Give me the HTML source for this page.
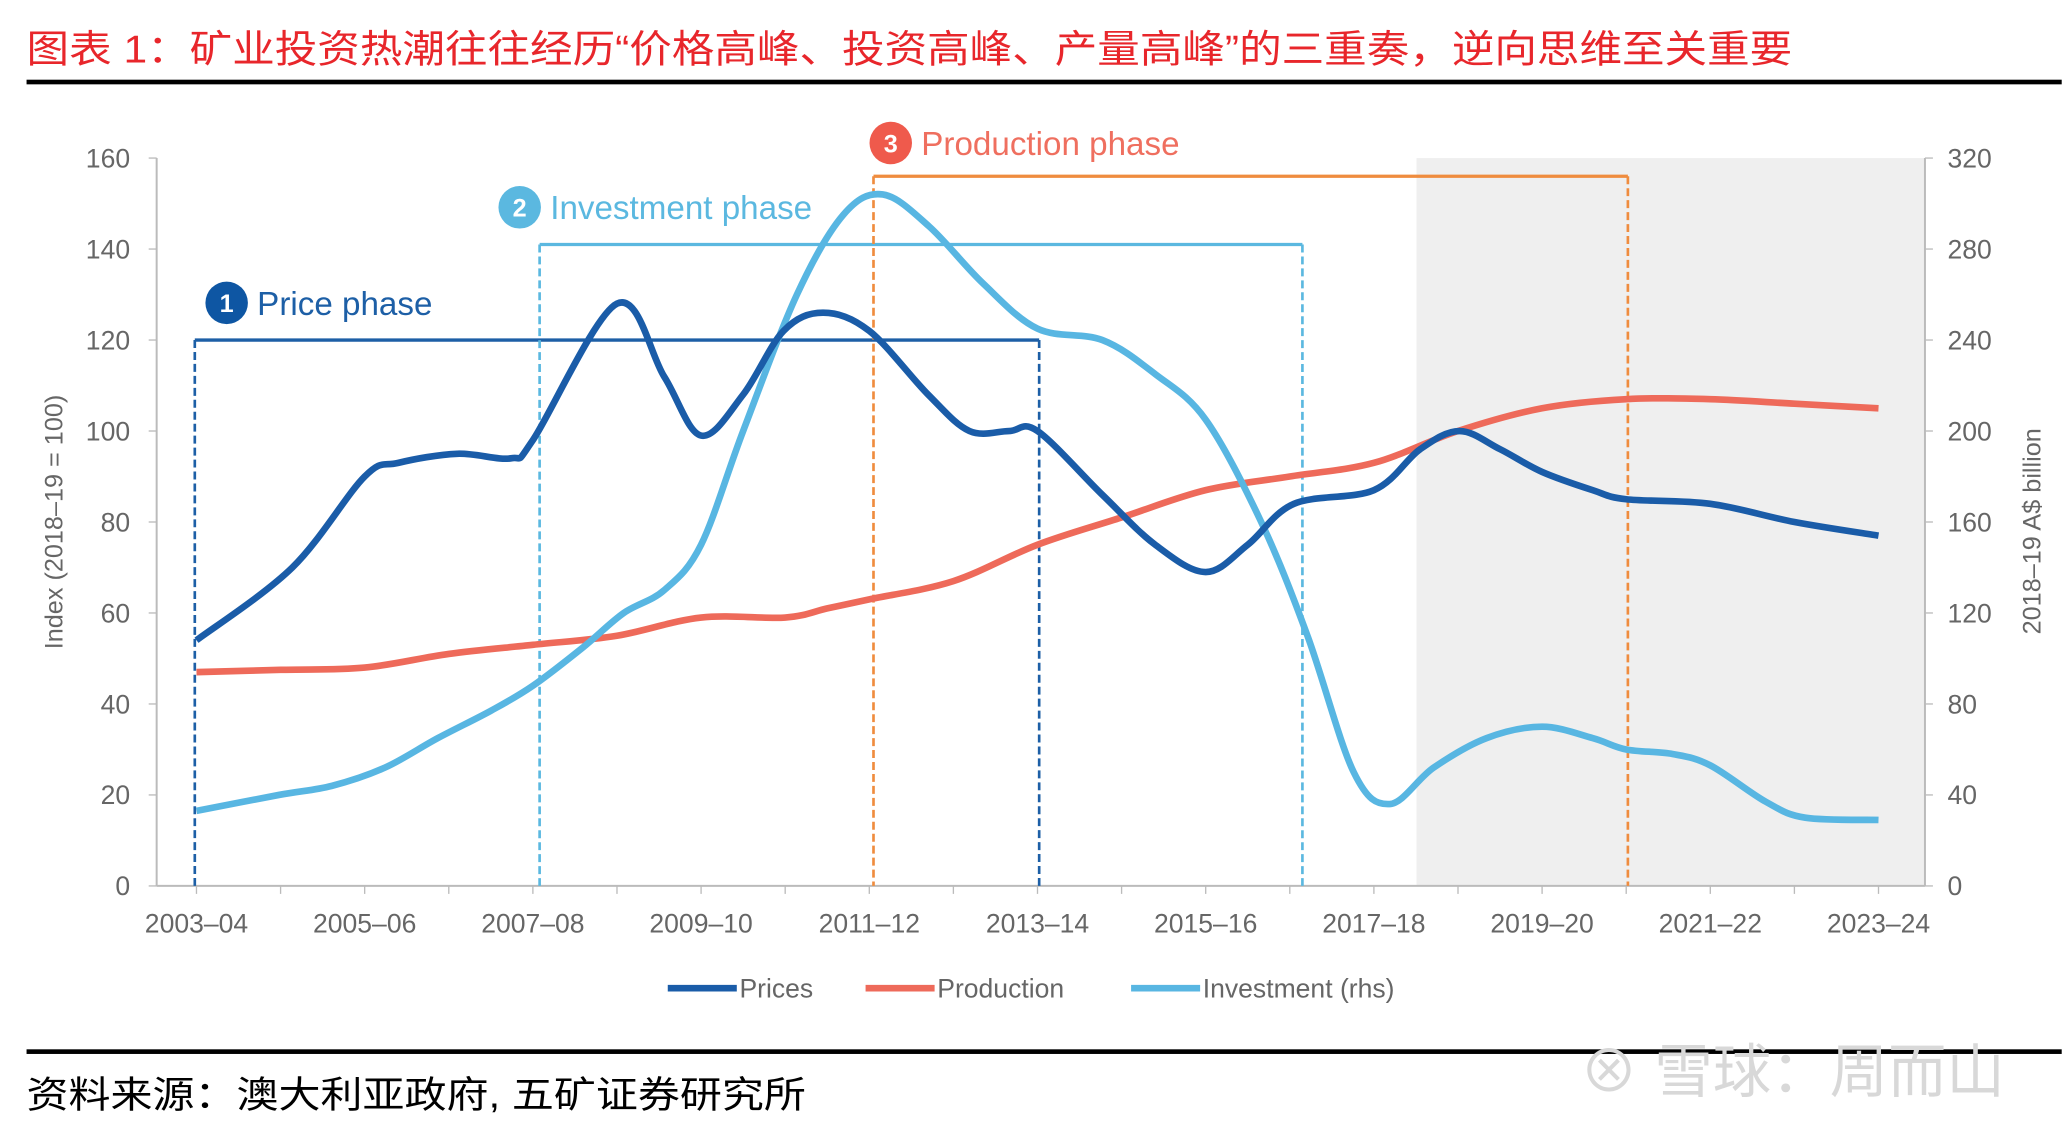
<!DOCTYPE html>
<html><head><meta charset="utf-8"><style>
html,body{margin:0;padding:0;background:#fff;}
svg{display:block;}
</style></head><body>
<svg id="chart" width="2071" height="1129" viewBox="0 0 1560 850" preserveAspectRatio="none" xmlns="http://www.w3.org/2000/svg" font-family="'Liberation Sans','Noto Sans CJK SC',sans-serif">
<text x="20" y="47" font-size="29" textLength="1330" lengthAdjust="spacingAndGlyphs" fill="#e8262b" font-family="'Liberation Sans','Noto Sans CJK SC',sans-serif">图表 1：矿业投资热潮往往经历“价格高峰、投资高峰、产量高峰”的三重奏，逆向思维至关重要</text>
<rect x="20" y="60" width="1533" height="3.5" fill="#000"/>
<rect x="1067" y="119" width="383" height="548" fill="#efefef"/>
<g id="axes"></g>
<g id="phases"></g>
<g id="series"></g>
<text transform="translate(47,393) rotate(-90)" text-anchor="middle" font-size="19" fill="#666">Index (2018–19 = 100)</text>
<text transform="translate(1537,400) rotate(-90)" text-anchor="middle" font-size="19" fill="#666">2018–19 A$ billion</text>
<g font-size="20" fill="#666">
<line x1="503" y1="744" x2="555" y2="744" stroke="#1a5ca8" stroke-width="5"/>
<text x="557" y="751">Prices</text>
<line x1="652" y1="744" x2="704" y2="744" stroke="#ee6a5a" stroke-width="5"/>
<text x="706" y="751">Production</text>
<line x1="852" y1="744" x2="904" y2="744" stroke="#58b6e2" stroke-width="5"/>
<text x="906" y="751">Investment (rhs)</text>
</g>
<rect x="20" y="790" width="1533" height="3.5" fill="#000"/>
<text x="20" y="834" font-size="28" textLength="587" lengthAdjust="spacingAndGlyphs" fill="#000">资料来源：澳大利亚政府, 五矿证券研究所</text>
<text x="1190" y="822" font-size="44" fill="#d8d8d8">⊗ 雪球：周而山</text>
</svg>
<script>
const xLabels=["2003–04","2005–06","2007–08","2009–10","2011–12","2013–14","2015–16","2017–18","2019–20","2021–22","2023–24"];
const leftTicks=[0,20,40,60,80,100,120,140,160];
const rightTicks=[0,40,80,120,160,200,240,280,320];
const priceYears=[0,1.14,2,2.4,3.1,3.74,4,5,5.56,6,6.5,6.98,7.45,8,8.7,9.19,9.66,10,10.77,11.4,12,12.5,13.05,14,14.55,15.02,15.5,16,16.6,17,18,19,20];
const priceValues=[54,70,90,93,95,94,98,128,112,99,108,122,126,122,108,100,100,100,86,75,69,75,84,87,96,100,96,91,87,85,84,80,77];
const prodYears=[0,1,2,3,4,5,6,7,7.5,8,9,10,11,12,13,14,15,16,17,18,19,20];
const prodValues=[47,47.5,48,51,53,55,59,59,61,63,67,75,81,87,90,93,100,105,107,107,106,105];
const invYears=[0,0.98,1.61,2.24,2.87,3.5,4,4.6,5.08,5.56,6,6.5,7.14,7.69,8.16,8.71,9.35,10,10.77,11.4,12,12.66,13.21,13.76,14.19,14.71,15.34,16,16.6,17,17.55,18,18.66,19.13,20];
const invValues=[33,40,44,52,65,77,88,105,120,130,150,200,260,295,304,290,265,245,240,225,205,160,110,50,36,52,65,70,65,60,58,53,37,30,29];
const phaseNames=["Price phase","Investment phase","Production phase"];
const phaseStart=[-0.02,4.08,8.05];
const phaseEnd=[10.02,13.15,17.02];
const phaseLevel=[120,141,156];

const X0=148,XS=63.35,Y0=667,H=548;
const xs=y=>X0+y*XS;
const yl=v=>Y0-v/160*H;
const yr=v=>Y0-v/320*H;
const NS="http://www.w3.org/2000/svg";
function mk(tag,attrs,parent){const e=document.createElementNS(NS,tag);for(const k in attrs)e.setAttribute(k,attrs[k]);parent.appendChild(e);return e;}
const axes=document.getElementById('axes');
let a=mk('line',{x1:118,y1:119,x2:118,y2:667,stroke:'#bbb','stroke-width':1.5},axes);


a=mk('line',{x1:1450,y1:119,x2:1450,y2:667,stroke:'#bbb','stroke-width':1.5},axes);


a=mk('line',{x1:118,y1:667,x2:1450,y2:667,stroke:'#bbb','stroke-width':1.5},axes);


leftTicks.forEach(v=>{
  const t=mk('text',{x:98,y:yl(v)+7,'text-anchor':'end','font-size':20,fill:'#666'},axes);t.textContent=v;
  
  
  mk('line',{x1:112,y1:yl(v),x2:118,y2:yl(v),stroke:'#bbb'},axes);
});
rightTicks.forEach(v=>{
  const t=mk('text',{x:1467,y:yr(v)+7,'font-size':20,fill:'#666'},axes);t.textContent=v;
  
  
  mk('line',{x1:1450,y1:yr(v),x2:1456,y2:yr(v),stroke:'#bbb'},axes);
});
for(let i=0;i<=20;i++){mk('line',{x1:xs(i),y1:667,x2:xs(i),y2:673,stroke:'#bbb'},axes);}
xLabels.forEach((l,i)=>{
  const t=mk('text',{x:xs(i*2),y:702,'text-anchor':'middle','font-size':20,fill:'#666'},axes);t.textContent=l;
  
  
});
const phaseColors=['#1d5fa6','#5bb8e0','#ef8c3e'];
const circleColors=['#0e56a3','#5bb8e0','#ef5a4c'];
const textColors=['#1d5fa6','#5bb8e0','#ef6f5f'];
const ph=document.getElementById('phases');
phaseNames.forEach((n,i)=>{
  const x1=xs(phaseStart[i]),x2=xs(phaseEnd[i]),y=yl(phaseLevel[i]);
  const g=mk('g',{},ph);
  
  
  mk('line',{x1:x1,y1:y,x2:x2,y2:y,stroke:phaseColors[i],'stroke-width':2.5},g);
  mk('line',{x1:x1,y1:y,x2:x1,y2:667,stroke:phaseColors[i],'stroke-width':2,'stroke-dasharray':'6,3'},g);
  mk('line',{x1:x2,y1:y,x2:x2,y2:667,stroke:phaseColors[i],'stroke-width':2,'stroke-dasharray':'6,3'},g);
  const cx=x1+(i==0?24:(i==2?13:-15)), cy=y-28+(i==2?3:0);
  mk('circle',{cx:cx,cy:cy,r:16,fill:circleColors[i]},g);
  const num=mk('text',{x:cx,y:cy+7,'text-anchor':'middle','font-size':19,'font-weight':'bold',fill:'#fff'},g);num.textContent=i+1;
  const t=mk('text',{x:cx+23,y:cy+9,'font-size':25,fill:textColors[i]},g);t.textContent=n;
  
  
});
function path(xsArr,ysArr){
  const p=xsArr.map((x,i)=>[x,ysArr[i]]);
  let d='M'+p[0][0]+','+p[0][1];
  for(let i=0;i<p.length-1;i++){
    const p0=p[Math.max(0,i-1)],p1=p[i],p2=p[i+1],p3=p[Math.min(p.length-1,i+2)];
    const c1x=p1[0]+(p2[0]-p0[0])/6,c1y=p1[1]+(p2[1]-p0[1])/6;
    const c2x=p2[0]-(p3[0]-p1[0])/6,c2y=p2[1]-(p3[1]-p1[1])/6;
    d+=` C${c1x},${c1y} ${c2x},${c2y} ${p2[0]},${p2[1]}`;
  }
  return d;
}
const sg=document.getElementById('series');
let s=mk('path',{d:path(prodYears.map(xs),prodValues.map(yl)),fill:'none',stroke:'#ee6a5a','stroke-width':5,'stroke-linejoin':'round'},sg);


s=mk('path',{d:path(invYears.map(xs),invValues.map(yr)),fill:'none',stroke:'#58b6e2','stroke-width':5,'stroke-linejoin':'round'},sg);


s=mk('path',{d:path(priceYears.map(xs),priceValues.map(yl)),fill:'none',stroke:'#1a5ca8','stroke-width':5,'stroke-linejoin':'round'},sg);


</script>
</body></html>
